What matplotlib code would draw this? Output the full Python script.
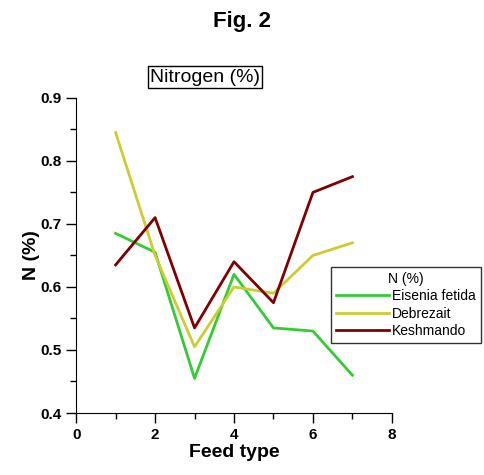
import matplotlib
matplotlib.use("Agg")
import matplotlib.pyplot as plt
from matplotlib.ticker import MultipleLocator

feed_type = [1, 2, 3, 4, 5, 6, 7]
eisenia = [0.685, 0.655, 0.455, 0.62, 0.535, 0.53, 0.46]
debrezait = [0.845, 0.65, 0.505, 0.60, 0.59, 0.65, 0.67]
keshmando = [0.635, 0.71, 0.535, 0.64, 0.575, 0.75, 0.775]

plt.rcParams["font.family"] = ["Liberation Sans", "DejaVu Sans"]

fig = plt.figure(figsize=(4.85, 4.75), dpi=100)
ax = fig.add_axes([0.157, 0.1305, 0.651, 0.6635])

ax.plot(feed_type, eisenia, color="#33cc33", lw=2, label="Eisenia fetida")
ax.plot(feed_type, debrezait, color="#cccc33", lw=2, label="Debrezait")
ax.plot(feed_type, keshmando, color="#800000", lw=2, label="Keshmando")

ax.set_xlim(0, 8)
ax.set_ylim(0.4, 0.9)
ax.xaxis.set_major_locator(MultipleLocator(2))
ax.xaxis.set_minor_locator(MultipleLocator(1))
ax.yaxis.set_major_locator(MultipleLocator(0.1))
ax.yaxis.set_minor_locator(MultipleLocator(0.05))
ax.spines["top"].set_visible(False)
ax.spines["right"].set_visible(False)
ax.tick_params(which="major", length=7, width=1, direction="out")
ax.tick_params(which="minor", length=4, width=1, direction="out")
for lbl in ax.get_xticklabels() + ax.get_yticklabels():
    lbl.set_fontweight("bold")
    lbl.set_fontsize(11)

ax.set_xlabel("Feed type", fontsize=14, fontweight="bold", labelpad=2)
ax.set_ylabel("N (%)", fontsize=14, fontweight="bold", labelpad=0)

fig.text(0.5, 0.955, "Fig. 2", ha="center", va="center", fontsize=16, fontweight="bold")
fig.text(205 / 485, (475 - 77) / 475, "Nitrogen (%)", ha="center", va="center",
         fontsize=14, bbox=dict(facecolor="white", edgecolor="black", boxstyle="square,pad=0.12", lw=1))

leg = fig.legend(loc="upper left", bbox_to_anchor=(331 / 485, (475 - 267) / 475),
                 title="N (%)", fontsize=10, title_fontsize=10, frameon=True, fancybox=False,
                 edgecolor="black", handlelength=3.8, borderpad=0.35, labelspacing=0.25,
                 handletextpad=0.25, borderaxespad=0)
leg.get_frame().set_linewidth(1)

fig.savefig("out.png", dpi=100)
